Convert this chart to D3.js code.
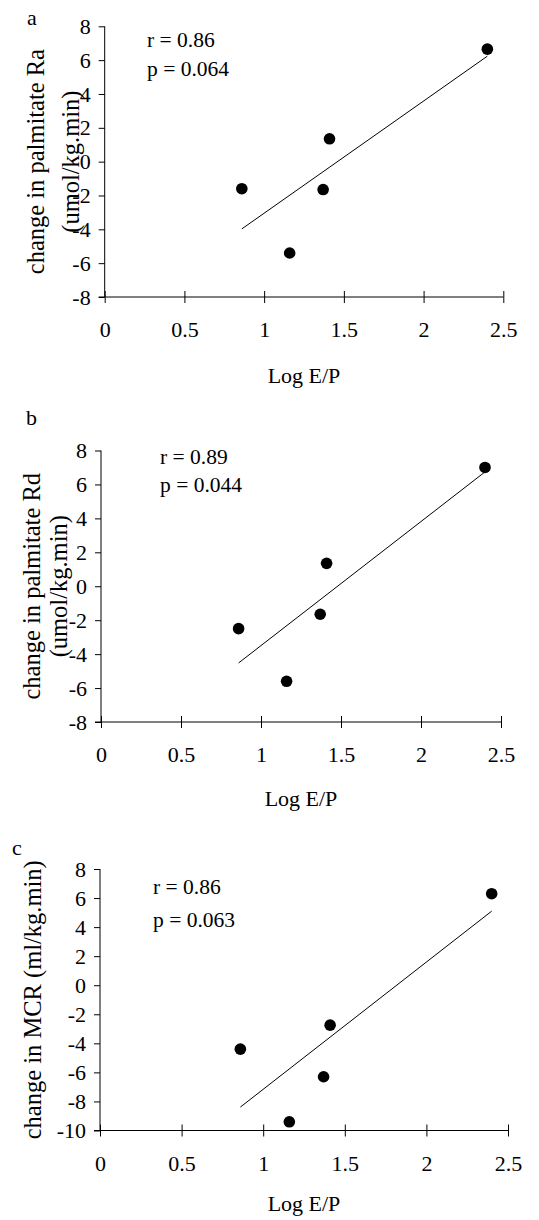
<!DOCTYPE html>
<html>
<head>
<meta charset="utf-8">
<script src="https://cdn.jsdelivr.net/npm/d3@7"></script>
<style>
  body { margin: 0; background: #fff; }
  text { font-family: "Liberation Serif", "Times New Roman", serif; fill: #000; }
</style>
</head>
<body>
<script>
// data
var logEP = [0.86, 1.16, 1.37, 1.41, 2.40];
var raChange = [-1.6, -5.4, -1.65, 1.35, 6.65];
var rdChange = [-2.5, -5.6, -1.65, 1.35, 7.0];
var mcrChange = [-4.4, -9.4, -6.3, -2.75, 6.3];

var xTicks = [0, 0.5, 1, 1.5, 2, 2.5];
var yTicksAB = [-8, -6, -4, -2, 0, 2, 4, 6, 8];
var yTicksC = [-10, -8, -6, -4, -2, 0, 2, 4, 6, 8];

var panelLetters = ["a", "b", "c"];
var yTitles = [
  ["change in palmitate Ra", "(umol/kg.min)"],
  ["change in palmitate Rd", "(umol/kg.min)"],
  ["change in MCR (ml/kg.min)"]
];
var statsText = [
  ["r = 0.86", "p = 0.064"],
  ["r = 0.89", "p = 0.044"],
  ["r = 0.86", "p = 0.063"]
];
var xTitle = "Log E/P";

// layout of each panel
var panels = [
  {y: raChange, yt: yTicksAB, left: 104.7, right: 503.3, top: 26.3, bottom: 297,
   letter: [27, 25], titleX: [44, 79], stats: [147, 47, 29], xTitleY: 383},
  {y: rdChange, yt: yTicksAB, left: 101, right: 501, top: 450.5, bottom: 722,
   letter: [26, 425], titleX: [40, 67], stats: [160, 464, 28], xTitleY: 806},
  {y: mcrChange, yt: yTicksC, left: 100, right: 508, top: 869, bottom: 1130.5,
   letter: [12, 855], titleX: [41], stats: [153, 894, 33], xTitleY: 1211}
];

var fs = 22, fsTitle = 24.5, fsStats = 21.5;

var svg = d3.select("body").append("svg")
    .attr("width", 539)
    .attr("height", 1220);

function fit(xs, ys) {
  var mx = d3.mean(xs), my = d3.mean(ys);
  var sxy = d3.sum(xs, function(d, i) { return (d - mx) * (ys[i] - my); });
  var sxx = d3.sum(xs, function(d) { return (d - mx) * (d - mx); });
  var b = sxy / sxx;
  return {b: b, a: my - b * mx};
}

panels.forEach(function(p, k) {
  var x = d3.scaleLinear().domain([0, 2.5]).range([p.left, p.right]);
  var y = d3.scaleLinear().domain(d3.extent(p.yt)).range([p.bottom, p.top]);
  var g = svg.append("g");

  // y axis
  var ya = g.append("g")
      .attr("transform", "translate(" + p.left + ",0)")
      .call(d3.axisLeft(y).tickValues(p.yt).tickSizeOuter(0).tickSize(6).tickPadding(8)
        .tickFormat(function(d) { return String(d); }));
  ya.select(".domain").remove();
  ya.selectAll("line").attr("stroke", "#000");
  ya.selectAll("text").attr("font-size", fs).attr("font-family", null);
  g.append("line")
      .attr("x1", p.left).attr("x2", p.left)
      .attr("y1", p.top).attr("y2", p.bottom)
      .attr("stroke", "#000");

  // x axis, ticks crossing the line
  var xa = g.append("g")
      .attr("transform", "translate(0," + p.bottom + ")")
      .call(d3.axisBottom(x).tickValues(xTicks).tickSizeOuter(0).tickSize(6)
        .tickFormat(function(d) { return String(d); }));
  xa.select(".domain").remove();
  xa.selectAll(".tick line").attr("y1", -6).attr("y2", 6).attr("stroke", "#000");
  xa.selectAll("text").attr("font-size", fs).attr("font-family", null)
      .attr("y", 40).attr("dy", null);
  g.append("line")
      .attr("x1", p.left - 6).attr("x2", p.right)
      .attr("y1", p.bottom).attr("y2", p.bottom)
      .attr("stroke", "#000");

  // regression line over the data range
  var f = fit(logEP, p.y);
  var ex = d3.extent(logEP);
  g.append("line")
      .attr("x1", x(ex[0])).attr("y1", y(f.a + f.b * ex[0]))
      .attr("x2", x(ex[1])).attr("y2", y(f.a + f.b * ex[1]))
      .attr("stroke", "#000").attr("stroke-width", 1);

  g.selectAll(".dot")
      .data(logEP)
      .enter().append("circle")
      .attr("class", "dot")
      .attr("cx", function(d) { return x(d); })
      .attr("cy", function(d, i) { return y(p.y[i]); })
      .attr("r", 5.8)
      .attr("fill", "#000");

  // texts
  g.append("text")
      .attr("x", p.letter[0]).attr("y", p.letter[1])
      .attr("font-size", fs)
      .text(panelLetters[k]);

  var cy = (p.top + p.bottom) / 2;
  yTitles[k].forEach(function(t, j) {
    g.append("text")
        .attr("transform", "translate(" + p.titleX[j] + "," + cy + ") rotate(-90)")
        .attr("text-anchor", "middle")
        .attr("font-size", fsTitle)
        .text(t);
  });

  statsText[k].forEach(function(t, j) {
    g.append("text")
        .attr("x", p.stats[0]).attr("y", p.stats[1] + j * p.stats[2])
        .attr("font-size", fsStats)
        .text(t);
  });

  g.append("text")
      .attr("x", (p.left + p.right) / 2).attr("y", p.xTitleY)
      .attr("text-anchor", "middle")
      .attr("font-size", fs)
      .text(xTitle);
});
</script>
</body>
</html>
